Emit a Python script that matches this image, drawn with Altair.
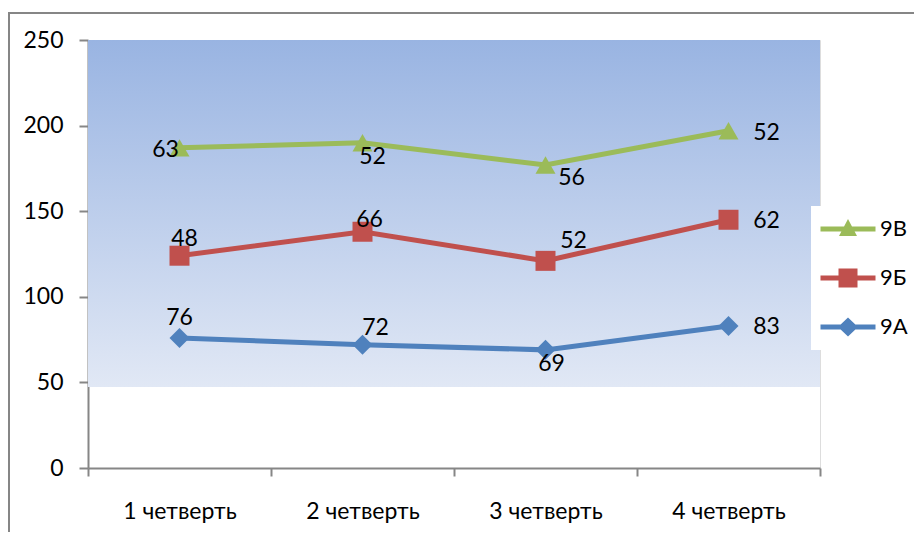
import altair as alt
import pandas as pd

QUARTERS = ["1 четверть", "2 четверть", "3 четверть", "4 четверть"]
SERIES = ["9А", "9Б", "9В"]
VALUES_9A = [76, 72, 69, 83]
VALUES_9B = [48, 66, 52, 62]
VALUES_9V = [63, 52, 56, 52]
COLORS = ["#4F81BD", "#C0504D", "#9BBB59"]
SHAPES = ["diamond", "square", "triangle-up"]
LEGEND_ORDER = ["9В", "9Б", "9А"]
Y_TICKS = [0, 50, 100, 150, 200, 250]
BG_TOP, BG_BOTTOM = 250, 47.3

# label offsets (dx, dy) per series, per quarter
LABEL_OFFSETS = {
    "9А": [(0, -20), (13, -17), (6, 14), (38, 1)],
    "9Б": [(5, -17), (7, -12), (28, -20), (38, 1)],
    "9В": [(-14, 2), (10, 14), (26, 13), (38, 2)],
}

FONT = "Lato"
AX = "#868686"

rows = []
for si, (s, vals) in enumerate(zip(SERIES, [VALUES_9A, VALUES_9B, VALUES_9V])):
    for qi, (q, v) in enumerate(zip(QUARTERS, vals)):
        rows.append({"quarter": q, "series": s, "value": v, "order": si})
df = pd.DataFrame(rows)

x_enc = alt.X(
    "quarter:N",
    sort=QUARTERS,
    scale=alt.Scale(domain=QUARTERS, paddingInner=0, paddingOuter=0),
    axis=alt.Axis(
        title=None, labelAngle=0, tickBand="extent", labelPadding=24,
        tickSize=8, labelFontSize=23, labelFont=FONT, labelColor="black",
        domainColor=AX, tickColor=AX, domainWidth=2, tickWidth=2,
    ),
)
y_scale = alt.Scale(domain=[0, 250], nice=False, zero=True)
y_axis = alt.Axis(
    title=None, values=Y_TICKS, grid=False, tickSize=9, labelPadding=16,
    labelFontSize=23, labelFont=FONT, labelColor="black",
    domainColor=AX, tickColor=AX, domainWidth=2, tickWidth=2,
)

base = alt.Chart(df).transform_stack(
    stack="value", groupby=["quarter"], as_=["y0", "y1"],
    sort=[alt.SortField("order", order="ascending")],
)

bg = alt.Chart(pd.DataFrame({"top": [BG_TOP], "bottom": [BG_BOTTOM]})).mark_rect(
    color=alt.Gradient(
        gradient="linear",
        stops=[alt.GradientStop(color="#99B4E2", offset=0),
               alt.GradientStop(color="#E1E8F5", offset=1)],
        x1=0, x2=0, y1=0, y2=1,
    )
).encode(
    y=alt.Y("top:Q", scale=y_scale, axis=y_axis),
    y2="bottom:Q",
)

layers = [bg]
for s, c, sh in zip(SERIES, COLORS, SHAPES):
    sub = base.transform_filter(alt.datum.series == s)
    layers.append(sub.mark_line(color=c, strokeWidth=5).encode(
        x=x_enc, y=alt.Y("y1:Q", scale=y_scale, axis=y_axis)))
for s, c, sh in zip(SERIES, COLORS, SHAPES):
    sub = base.transform_filter(alt.datum.series == s)
    layers.append(sub.mark_point(shape=sh, filled=True, opacity=1, size=400, color=c).encode(
        x=x_enc, y=alt.Y("y1:Q", scale=y_scale, axis=y_axis)))
for s in SERIES:
    for q, (dx, dy) in zip(QUARTERS, LABEL_OFFSETS[s]):
        sub = base.transform_filter((alt.datum.series == s) & (alt.datum.quarter == q))
        layers.append(sub.mark_text(
            dx=dx, dy=dy, fontSize=23, font=FONT, color="black",
            align="center", baseline="middle",
        ).encode(x=x_enc, y=alt.Y("y1:Q", scale=y_scale, axis=y_axis), text="value:Q"))

# legend symbols: a line with the marker on it (unit = 10 px)
LEG_PATHS = {
    "9В": "M-1.35,-0.25H4.15V0.25H-1.35Z M0.5,0.7L1.4,-1L2.3,0.7Z",
    "9Б": "M-1.35,-0.25H4.15V0.25H-1.35Z M0.45,-0.95H2.35V0.95H0.45Z",
    "9А": "M-1.35,-0.25H4.15V0.25H-1.35Z M0.4,0L1.4,-0.95L2.4,0L1.4,0.95Z",
}
leg = alt.Legend(
    title=None, orient="none", legendX=723, legendY=166, fillColor="white",
    padding=12, symbolSize=400, symbolStrokeWidth=0, labelFontSize=22,
    labelFont=FONT, labelColor="black", labelOffset=35, rowPadding=27,
)
legend_layer = alt.Chart(df).transform_filter("false").mark_point(
    filled=True, opacity=1, size=400
).encode(
    color=alt.Color("series:N", scale=alt.Scale(domain=LEGEND_ORDER, range=[COLORS[2], COLORS[1], COLORS[0]]), legend=leg),
    shape=alt.Shape("series:N", scale=alt.Scale(domain=LEGEND_ORDER, range=[LEG_PATHS[k] for k in LEGEND_ORDER]), legend=leg),
)
layers.append(legend_layer)

frame = alt.Chart(pd.DataFrame({"a": [0]})).mark_rect(
    fillOpacity=0, stroke=AX, strokeWidth=2, clip=False
).encode(x=alt.value(-79), x2=alt.value(900), y=alt.value(-27), y2=alt.value(600))
layers.append(frame)

chart = alt.layer(*layers).properties(
    width=732, height=428,
    padding={"left": 80, "top": 32, "right": 94, "bottom": 64},
    autosize=alt.AutoSizeParams(type="none"),
).configure_view(stroke=None).configure(font=FONT)

chart.save("out.html", embed_options={"renderer": "svg", "actions": False})
